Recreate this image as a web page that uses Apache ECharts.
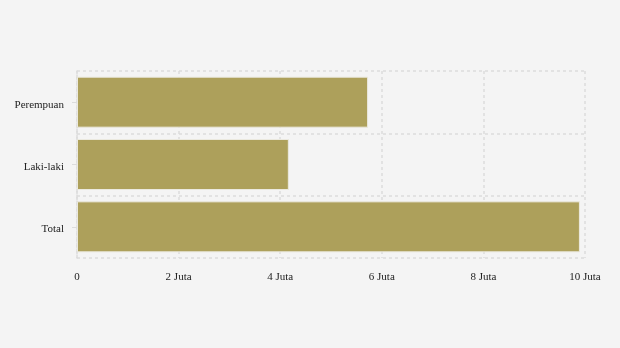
<!DOCTYPE html>
<html><head><meta charset="utf-8">
<script src="https://cdn.jsdelivr.net/npm/echarts@6/dist/echarts.min.js"></script>
<style>html,body{margin:0;padding:0;background:#f4f4f4}#c{width:620px;height:348px}</style>
</head><body><div id="c"></div>
<script>
var categories = ['Total', 'Laki-laki', 'Perempuan'];
var values = [9.9, 4.17, 5.73];
var xTicks = [0, 2, 4, 6, 8, 10];

var chart = echarts.init(document.getElementById('c'));
chart.setOption({
  backgroundColor: '#f4f4f4',
  textStyle: {fontFamily: 'Liberation Serif'},
  grid: {left: 77, right: 35, top: 71, bottom: 90},
  xAxis: {
    type: 'value', min: 0, max: 10, interval: 2,
    axisLine: {show: false}, axisTick: {show: false},
    axisLabel: {color: '#222', fontSize: 11, fontFamily: 'Liberation Serif', margin: 14,
      formatter: function(v){ return v === 0 ? '0' : v + ' Juta'; }},
    splitLine: {show: true, lineStyle: {color: '#dcdcdc', type: [3,3], width: 1.5}}
  },
  yAxis: {
    type: 'category', data: categories,
    axisLine: {show: true, lineStyle: {color: '#dcdcdc', type: [3,3], width: 1.5}},
    axisTick: {show: true, alignWithLabel: true, length: 5, lineStyle: {color: '#dcdcdc'}},
    axisLabel: {color: '#222', fontSize: 11, fontFamily: 'Liberation Serif', margin: 13,
      formatter: function(v){ return '{a|' + v + '}'; },
      rich: {a: {color: '#222', fontSize: 11, fontFamily: 'Liberation Serif', padding: [5,0,0,0]}}},
    splitLine: {show: true, lineStyle: {color: '#dcdcdc', type: [3,3], width: 1.5}}
  },
  series: [{
    type: 'bar', data: values, barWidth: 51,
    itemStyle: {color: '#ada05b', borderColor: '#ebe9df', borderWidth: 1},
    silent: true
  }]
});
</script></body></html>
